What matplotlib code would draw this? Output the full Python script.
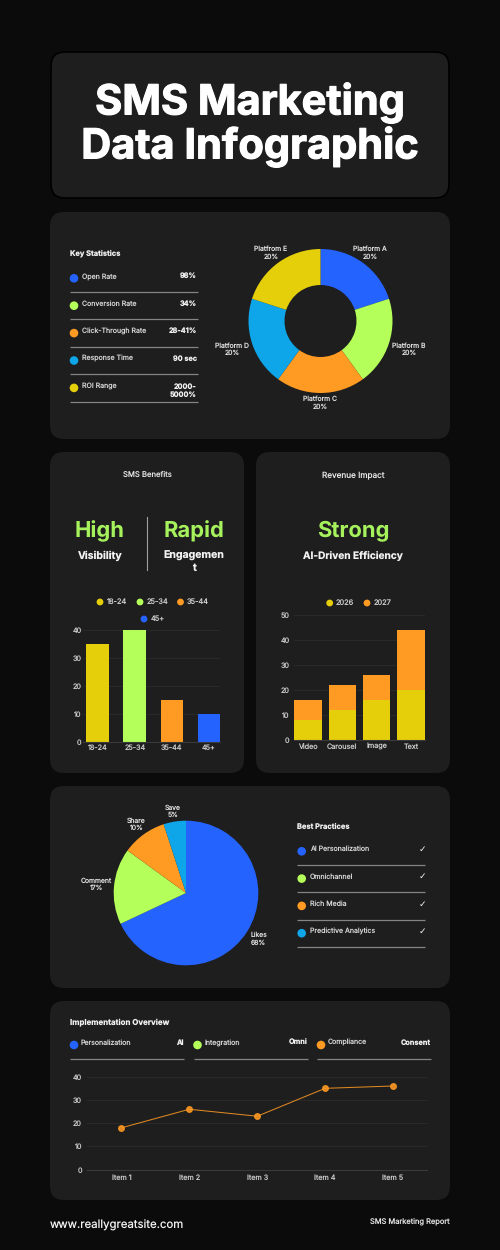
import matplotlib
matplotlib.use('Agg')
import matplotlib.pyplot as plt
import matplotlib.patheffects as pe
from matplotlib.patches import FancyBboxPatch, Circle
import numpy as np

plt.rcParams['font.family'] = ['Inter', 'DejaVu Sans']
plt.rcParams['text.hinting'] = 'no_hinting'
plt.rcParams['text.hinting_factor'] = 1

# colours
bg_color = '#0b0b0b'
panel_color = '#1e1e1e'
blue = '#2563ff'
lime = '#b4ff5a'
orange = '#ff9a22'
cyan = '#0ea5e9'
yellow = '#e5cf0a'
green_text = '#a6f25c'
line_grey = '#858585'
tick_grey = '#c8c8c8'

# data
stat_names = ['Open Rate', 'Conversion Rate', 'Click-Through Rate', 'Response Time', 'ROI Range']
stat_values = ['98%', '34%', '28-41%', '90 sec', '2000-\n5000%']
platforms = ['Platform A', 'Platform B', 'Platform C', 'Platform D', 'Platfrom E']
platform_share = [20, 20, 20, 20, 20]
age_groups = ['18-24', '25-34', '35-44', '45+']
age_values = [35, 40, 15, 10]
formats = ['Video', 'Carousel', 'Image', 'Text']
values_2026 = [8, 12, 16, 20]
values_2027 = [8, 10, 10, 24]
engagement = ['Likes', 'Comment', 'Share', 'Save']
engagement_share = [68, 17, 10, 5]
practices = ['AI Personalization', 'Omnichannel', 'Rich Media', 'Predictive Analytics']
overview_names = ['Personalization', 'Integration', 'Compliance']
overview_values = ['AI', 'Omni', 'Consent']
items = ['Item 1', 'Item 2', 'Item 3', 'Item 4', 'Item 5']
item_values = [18, 26, 23, 35, 36]

W, H = 500, 1250
fig = plt.figure(figsize=(W / 100, H / 100), dpi=100, facecolor=bg_color)

# overlay in pixel coordinates for the cards and text
page = fig.add_axes([0, 0, 1, 1])
page.set_xlim(0, W)
page.set_ylim(H, 0)
page.axis('off')


def px(size):
    return size * 0.72


def card(x0, y0, x1, y1, r=14, edge='none'):
    page.add_patch(FancyBboxPatch((x0 + r, y0 + r), x1 - x0 - 2 * r, y1 - y0 - 2 * r,
                                  boxstyle=f'round,pad={r},rounding_size={r}',
                                  fc=panel_color, ec=edge, lw=1.2, zorder=1))


def label(x, y, s, size=8, color='#e2e2e2', weight='normal', ha='left', **kw):
    return page.text(x, y, s, fontsize=px(size), color=color, fontweight=weight, ha=ha, va='center',
                     zorder=5, **kw)


def dot(x, y, color, r=4.3):
    page.add_patch(Circle((x, y), r, fc=color, ec='none', zorder=5))


def rule(x0, x1, y, color=line_grey, lw=0.9):
    page.plot([x0, x1], [y, y], color=color, lw=lw, zorder=4, solid_capstyle='butt')


def axes_px(left, top, right, bottom):
    return fig.add_axes([left / W, 1 - bottom / H, (right - left) / W, (bottom - top) / H],
                        facecolor='none')


def ring_labels(ax, wedges, names, shares, dists, size=6.8):
    for w, name, share, d in zip(wedges, names, shares, dists):
        ang = np.deg2rad((w.theta1 + w.theta2) / 2)
        ax.text(d * np.cos(ang), d * np.sin(ang), f'{name}\n{share}%', ha='center', va='center',
                fontsize=px(size), color='#e2e2e2', linespacing=1.15)


def style_axis(ax, ticks, xpad=4, ypad=4):
    ax.set_yticks(ticks)
    ax.tick_params(length=0, colors=tick_grey, labelsize=px(7.2))
    ax.tick_params(axis='x', pad=xpad)
    ax.tick_params(axis='y', pad=ypad)
    for s in ['top', 'right', 'left']:
        ax.spines[s].set_visible(False)
    ax.spines['bottom'].set_color('#3a3a3a')
    ax.spines['bottom'].set_linewidth(0.8)
    ax.grid(axis='y', color='#2a2a2a', lw=0.7)
    ax.set_axisbelow(True)


# cards
card(51, 52, 449, 198, r=14, edge='#000000')
card(50, 212, 450, 439)
card(50, 452, 244, 773)
card(256, 452, 450, 773)
card(50, 786, 450, 988)
card(50, 1001, 450, 1200)

# title
heavy = [pe.withStroke(linewidth=0.8, foreground='white')]
label(250, 103, 'SMS Marketing', size=41.5, color='white', weight='bold', ha='center', path_effects=heavy)
label(250, 147, 'Data Infographic', size=41.5, color='white', weight='bold', ha='center', path_effects=heavy)

# key statistics
label(70, 253.5, 'Key Statistics', size=7.5, color='#f0f0f0', weight='bold')
stat_colors = [blue, lime, orange, cyan, yellow]
for i, (name, val) in enumerate(zip(stat_names, stat_values)):
    y = 276.3 + 27.4 * i
    dot(74, y + 2, stat_colors[i])
    label(82, y, name, size=7, color='#d4d4d4')
    if '\n' in val:
        label(197, y + 4.5, val, size=7.3, color='#f0f0f0', weight='bold', ha='right',
              multialignment='right', linespacing=1.15)
    else:
        label(197, y, val, size=7.3, color='#f0f0f0', weight='bold', ha='right')
    rule(70, 197.5, 292 + 27.4 * i)

# donut
R = 72
ext = 1.45
ax1 = axes_px(320.5 - R * ext, 321 - R * ext, 320.5 + R * ext, 321 + R * ext)
wedges1, _ = ax1.pie(platform_share, colors=[blue, lime, orange, cyan, yellow], startangle=90,
                     counterclock=False, radius=1, wedgeprops={'width': 0.5, 'edgecolor': 'none'})
ax1.set_xlim(-ext, ext)
ax1.set_ylim(-ext, ext)
ring_labels(ax1, wedges1, platforms, platform_share, [1.17, 1.29, 1.14, 1.29, 1.17])

# benefit headlines
label(147, 475, 'SMS Benefits', size=7.7, color='#e8e8e8', ha='center')
label(353, 475, 'Revenue Impact', size=8.2, color='#e8e8e8', ha='center')
label(100, 531, 'High', size=22, color=green_text, weight='bold', ha='center')
label(193.5, 531, 'Rapid', size=22, color=green_text, weight='bold', ha='center')
label(353, 531, 'Strong', size=22, color=green_text, weight='bold', ha='center')
label(100, 556, 'Visibility', size=10.5, color='#f2f2f2', weight='bold', ha='center')
label(193.5, 556, 'Engagemen', size=10.5, color='#f2f2f2', weight='bold', ha='center')
label(193.5, 568, 't', size=10.5, color='#f2f2f2', weight='bold', ha='center')
label(353, 556, 'AI-Driven Efficiency', size=10.1, color='#f2f2f2', weight='bold', ha='center')
page.plot([146.7, 146.7], [517, 570], color='#a0a0a0', lw=0.8, zorder=4)

# age bars
age_colors = [yellow, lime, orange, blue]
for x, y, text_x, name, c in zip([100, 140, 180.5, 144], [602, 602, 602, 619],
                                 [107, 146.5, 187, 150.5], age_groups, age_colors):
    dot(x, y, c, r=3.4)
    label(text_x, y, name, size=7.4, color='#c8c8c8')

ax2 = axes_px(83, 630.3, 220, 741.7)
ax2.bar(range(len(age_groups)), age_values, width=0.61, color=age_colors)
ax2.set_xlim(-0.397, 3.3)
ax2.set_ylim(0, 40)
ax2.set_xticks(range(len(age_groups)), age_groups)
style_axis(ax2, [0, 10, 20, 30, 40], xpad=2, ypad=1)

# revenue stacked bars
for x, text_x, name, c in zip([329.7, 367], [336, 373.5], ['2026', '2027'], [yellow, orange]):
    dot(x, 603, c, r=3.4)
    label(text_x, 603, name, size=7.4, color='#c8c8c8')

ax3 = axes_px(294.3, 615, 424.7, 740.3)
ax3.bar(range(len(formats)), values_2026, width=0.8, color=yellow)
ax3.bar(range(len(formats)), values_2027, width=0.8, bottom=values_2026, color=orange)
ax3.set_xlim(-0.4, 3.4)
ax3.set_ylim(0, 50)
ax3.set_xticks(range(len(formats)), formats)
style_axis(ax3, [0, 10, 20, 30, 40, 50], xpad=2, ypad=3.5)

# engagement pie
R = 72.3
ax4 = axes_px(186 - R * ext, 893 - R * ext, 186 + R * ext, 893 + R * ext)
wedges4, _ = ax4.pie(engagement_share, colors=[blue, lime, orange, cyan], startangle=90,
                     counterclock=False, radius=1, wedgeprops={'edgecolor': 'none'})
ax4.set_xlim(-ext, ext)
ax4.set_ylim(-ext, ext)
ring_labels(ax4, wedges4, engagement, engagement_share, [1.19, 1.25, 1.17, 1.14])

# best practices
label(297, 826.5, 'Best Practices', size=7.5, color='#f0f0f0', weight='bold')
for i, (name, c) in enumerate(zip(practices, [blue, lime, orange, cyan])):
    y = 849.3 + 27.3 * i
    dot(301.7, y + 2, c)
    label(310, y, name, size=7, color='#d4d4d4')
    page.text(422, y, '\u2713', fontsize=px(9), color='#f0f0f0', ha='center', va='center',
              zorder=5, family='DejaVu Sans', fontweight='bold')
    rule(297, 425, 865 + 27.4 * i)

# implementation overview
label(70, 1021.6, 'Implementation Overview', size=7.9, color='#f0f0f0', weight='bold')
for i, (name, val, c) in enumerate(zip(overview_names, overview_values, [blue, lime, orange])):
    x0 = 70 + 123.5 * i
    dot(x0 + 4, 1045, c)
    label(x0 + 11, 1043, name, size=7, color='#d4d4d4')
    label(x0 + 114, 1043, val, size=7.3, color='#f0f0f0', weight='bold', ha='right')
    rule(x0, x0 + 114, 1059)

ax5 = axes_px(87.4, 1076.7, 427, 1169.7)
ax5.plot(range(len(items)), item_values, color=orange, lw=0.75, marker='o', ms=4,
         markerfacecolor=orange, markeredgecolor=orange, alpha=0.85, clip_on=False)
ax5.set_xlim(-0.5, 4.5)
ax5.set_ylim(0, 40)
ax5.set_xticks(range(len(items)), items)
style_axis(ax5, [0, 10, 20, 30, 40], xpad=3)

# footer
label(50, 1225, 'www.reallygreatsite.com', size=11.4, color='#f2f2f2')
label(450, 1222, 'SMS Marketing Report', size=7.5, color='#e0e0e0', ha='right')

fig.savefig('out.png', dpi=100, facecolor=bg_color)
